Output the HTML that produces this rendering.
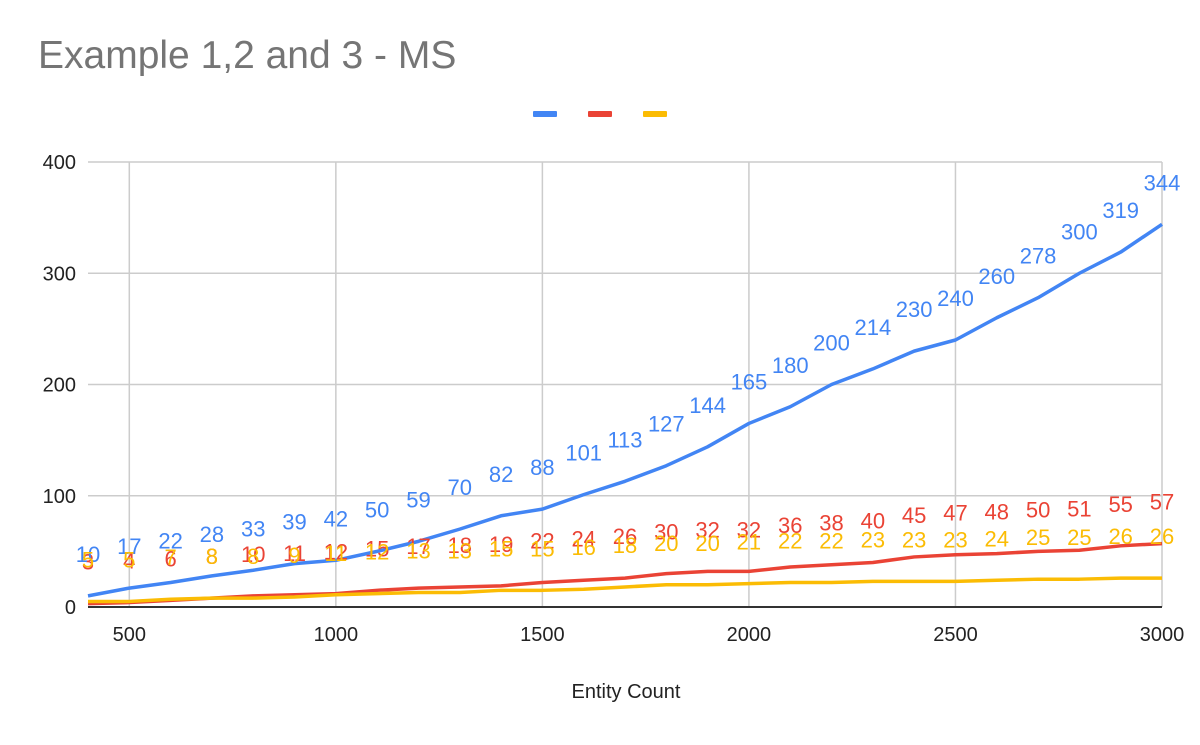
<!DOCTYPE html>
<html><head><meta charset="utf-8"><style>
body{margin:0;background:#fff;}
svg text{font-family:"Liberation Sans",Arial,sans-serif;}
</style></head><body>
<svg id="chart" width="1200" height="740" xmlns="http://www.w3.org/2000/svg">
<rect width="1200" height="740" fill="#fff"/>
<text x="38" y="68" font-size="39" fill="#757575">Example 1,2 and 3 - MS</text>
<g>
<rect x="533" y="111" width="24" height="6" rx="1" fill="#4285f4"/>
<rect x="588" y="111" width="24" height="6" rx="1" fill="#ea4335"/>
<rect x="643" y="111" width="24" height="6" rx="1" fill="#fbbc04"/>
</g>
<g id="grid"></g>
<g id="lines"></g>
<g id="labels"></g>
<text x="626" y="698" font-size="20" text-anchor="middle" fill="#222">Entity Count</text>
</svg>
<script>
const xs=[400,500,600,700,800,900,1000,1100,1200,1300,1400,1500,1600,1700,1800,1900,2000,2100,2200,2300,2400,2500,2600,2700,2800,2900,3000];
const blue=[10,17,22,28,33,39,42,50,59,70,82,88,101,113,127,144,165,180,200,214,230,240,260,278,300,319,344];
const red=[3,4,6,8,10,11,12,15,17,18,19,22,24,26,30,32,32,36,38,40,45,47,48,50,51,55,57];
const yellow=[5,5,7,8,8,9,11,12,13,13,15,15,16,18,20,20,21,22,22,23,23,23,24,25,25,26,26];
const xTicks=[500,1000,1500,2000,2500,3000];
const yTicks=[0,100,200,300,400];
const NS='http://www.w3.org/2000/svg';
const X=v=>88+(v-400)*(1162-88)/2600;
const Y=v=>607-v*(607-162)/400;
function mk(t,a,p){const e=document.createElementNS(NS,t);for(const k in a)e.setAttribute(k,a[k]);p.appendChild(e);return e;}
const g=document.getElementById('grid');
yTicks.forEach(v=>{
 if(v>0){const l=mk('line',{x1:88,x2:1162,y1:Y(v),y2:Y(v),stroke:'#ccc','stroke-width':1.5},g);
 
 }
 const t=mk('text',{x:76,y:Y(v)+7,'font-size':20,'text-anchor':'end',fill:'#222'},g);t.textContent=v;
 
 
});
xTicks.forEach(v=>{
 const l=mk('line',{x1:X(v),x2:X(v),y1:162,y2:607,stroke:'#ccc','stroke-width':1.5},g);
 
 
 const t=mk('text',{x:X(v),y:641,'font-size':20,'text-anchor':'middle',fill:'#222'},g);t.textContent=v;
 
 
});
const ax=mk('line',{x1:88,x2:1162,y1:607,y2:607,stroke:'#333','stroke-width':2},g);


const L=document.getElementById('lines'),T=document.getElementById('labels');
[[red,'#ea4335','red'],[yellow,'#fbbc04','yellow'],[blue,'#4285f4','blue']].forEach(([d,c,n])=>{
 const p=mk('polyline',{points:d.map((v,i)=>X(xs[i])+','+Y(v)).join(' '),fill:'none',stroke:c,'stroke-width':3.5,'stroke-linejoin':'round'},L);
 
 
});
[[red,'#ea4335','red'],[blue,'#4285f4','blue'],[yellow,'#fbbc04','yellow']].forEach(([d,c,n])=>{
 d.forEach((v,i)=>{
  const t=mk('text',{x:X(xs[i]),y:Y(v)-34,'font-size':22,'text-anchor':'middle',fill:c},T);t.textContent=v;
  
  
 });
});
</script>
</body></html>
